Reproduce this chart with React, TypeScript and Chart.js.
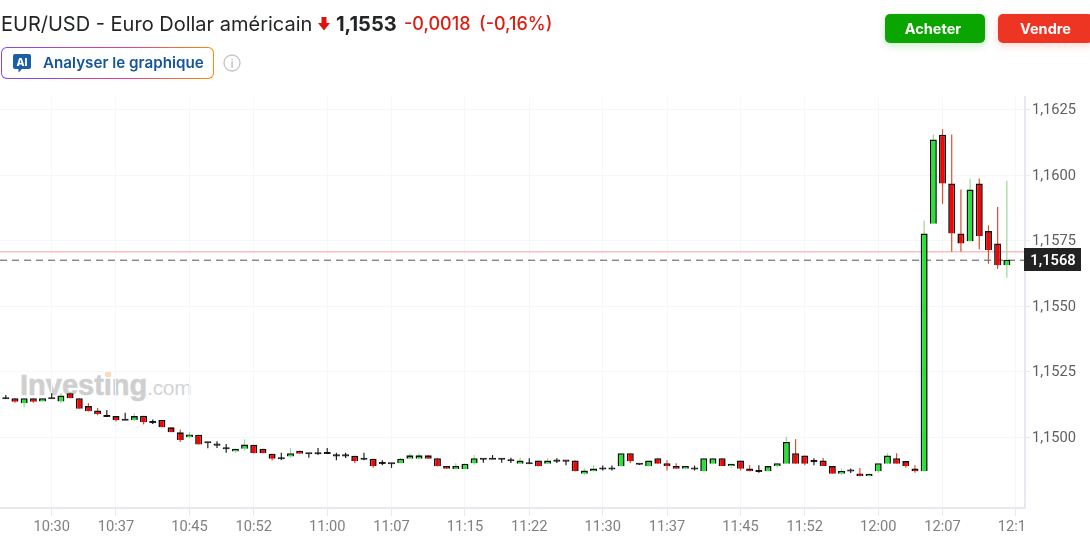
import React, { useEffect, useRef } from "react";
import { Chart, registerables } from "chart.js";

Chart.register(...registerables);

// One candle per minute, first candle 10:25
const firstMinute = 625;
const opens = [
  1.15148, 1.15148, 1.15129, 1.15148, 1.15136, 1.15148, 1.15136, 1.15167, 1.15148, 1.15118,
  1.15101, 1.1508, 1.1508, 1.15066, 1.15065, 1.15081, 1.15057, 1.15065, 1.15037, 1.15018,
  1.14999, 1.15009, 1.1498, 1.14971, 1.14957, 1.14945, 1.14955, 1.1497, 1.14955, 1.14936,
  1.14919, 1.14926, 1.14948, 1.14938, 1.14938, 1.14939, 1.1493, 1.1493, 1.14928, 1.14917,
  1.14917, 1.14901, 1.149, 1.149, 1.14917, 1.14917, 1.1493, 1.14919, 1.14889, 1.14878,
  1.14878, 1.149, 1.14917, 1.14917, 1.14917, 1.14911, 1.14898, 1.149, 1.1491, 1.14898,
  1.1491, 1.1491, 1.1491, 1.1486, 1.14869, 1.1488, 1.1488, 1.14888, 1.14938, 1.14898,
  1.14888, 1.14919, 1.149, 1.14889, 1.14879, 1.1488, 1.14869, 1.14898, 1.14919, 1.14889,
  1.1491, 1.1488, 1.1487, 1.14869, 1.14889, 1.14898, 1.14938, 1.14929, 1.14908, 1.1491,
  1.14889, 1.1486, 1.14872, 1.14861, 1.1485, 1.14869, 1.14898, 1.14919, 1.14908, 1.1488,
  1.14869, 1.15814, 1.16154, 1.15968, 1.15777, 1.15747, 1.15968, 1.15786, 1.15739, 1.15656,
];
const closes = [
  1.15148, 1.15135, 1.15148, 1.15135, 1.15148, 1.15148, 1.15158, 1.15148, 1.15108, 1.15098,
  1.15088, 1.1508, 1.15064, 1.15066, 1.1508, 1.15056, 1.15057, 1.15037, 1.15018, 1.14989,
  1.1501, 1.14971, 1.1498, 1.14971, 1.14957, 1.14955, 1.14971, 1.14938, 1.14938, 1.14917,
  1.14919, 1.14938, 1.14936, 1.14938, 1.14938, 1.14939, 1.1493, 1.1493, 1.14908, 1.14917,
  1.14889, 1.14901, 1.149, 1.14917, 1.1493, 1.1493, 1.14917, 1.14888, 1.14879, 1.14889,
  1.14898, 1.14919, 1.14917, 1.14917, 1.14917, 1.14911, 1.1491, 1.149, 1.14888, 1.1491,
  1.1491, 1.1491, 1.14869, 1.14872, 1.1488, 1.1488, 1.1488, 1.14938, 1.14907, 1.14898,
  1.1491, 1.14898, 1.14889, 1.14879, 1.14889, 1.1488, 1.14919, 1.14919, 1.14889, 1.14898,
  1.14879, 1.14869, 1.1487, 1.14889, 1.149, 1.14981, 1.14898, 1.14898, 1.14908, 1.14889,
  1.1486, 1.1487, 1.14872, 1.1485, 1.1486, 1.149, 1.14929, 1.14898, 1.14889, 1.14869,
  1.15777, 1.16136, 1.15968, 1.15777, 1.15739, 1.15945, 1.15766, 1.15714, 1.15656, 1.15677,
];
const highs = [
  1.1516, 1.15148, 1.15148, 1.15148, 1.15148, 1.15167, 1.15167, 1.15169, 1.15148, 1.15129,
  1.15111, 1.15103, 1.1508, 1.15093, 1.1509, 1.15081, 1.15067, 1.15065, 1.15037, 1.15029,
  1.15019, 1.15009, 1.1498, 1.14984, 1.14973, 1.14955, 1.14991, 1.1497, 1.14955, 1.14936,
  1.1494, 1.14958, 1.14948, 1.14938, 1.14958, 1.14958, 1.1494, 1.1494, 1.14928, 1.1494,
  1.14917, 1.14911, 1.149, 1.14921, 1.14938, 1.14938, 1.1493, 1.14919, 1.14889, 1.149,
  1.14898, 1.14931, 1.14917, 1.14931, 1.14917, 1.14921, 1.14921, 1.14919, 1.1491, 1.14919,
  1.14919, 1.1491, 1.1491, 1.1488, 1.14892, 1.14891, 1.14891, 1.14938, 1.14938, 1.14898,
  1.1491, 1.14919, 1.14911, 1.149, 1.14889, 1.14891, 1.14919, 1.14919, 1.14919, 1.14898,
  1.1491, 1.14892, 1.14892, 1.14889, 1.149, 1.15001, 1.14992, 1.14929, 1.14919, 1.1492,
  1.14889, 1.1488, 1.1488, 1.14882, 1.1486, 1.149, 1.14938, 1.14938, 1.14908, 1.14892,
  1.15827, 1.16155, 1.16175, 1.16155, 1.15945, 1.15987, 1.15987, 1.15808, 1.15878, 1.15978,
];
const lows = [
  1.15145, 1.15131, 1.15113, 1.15131, 1.15136, 1.15147, 1.15131, 1.15148, 1.15108, 1.15098,
  1.15083, 1.1508, 1.15059, 1.15066, 1.15062, 1.15048, 1.1505, 1.15037, 1.15018, 1.14981,
  1.14995, 1.14971, 1.14957, 1.14958, 1.1494, 1.1494, 1.1495, 1.14938, 1.14938, 1.1491,
  1.14912, 1.14921, 1.14936, 1.14921, 1.14931, 1.14936, 1.14911, 1.1492, 1.14901, 1.14911,
  1.14883, 1.14892, 1.14882, 1.149, 1.14917, 1.14917, 1.14917, 1.14888, 1.14879, 1.14878,
  1.14878, 1.14894, 1.14902, 1.14916, 1.14902, 1.14901, 1.14898, 1.14898, 1.14888, 1.14898,
  1.14901, 1.14892, 1.14869, 1.14856, 1.14869, 1.14872, 1.14872, 1.14888, 1.14901, 1.14893,
  1.14888, 1.14898, 1.14872, 1.14879, 1.14877, 1.14872, 1.14869, 1.14898, 1.14889, 1.14883,
  1.14873, 1.14869, 1.14864, 1.14869, 1.14883, 1.14898, 1.14898, 1.14892, 1.14892, 1.14889,
  1.1486, 1.14855, 1.14863, 1.1485, 1.1485, 1.14864, 1.14898, 1.14898, 1.14883, 1.14864,
  1.14869, 1.15814, 1.1589, 1.15707, 1.15707, 1.15747, 1.15717, 1.15661, 1.15641, 1.15608,
];

const xTickLabels = [
  "10:30", "10:37", "10:45", "10:52", "11:00", "11:07", "11:15", "11:22",
  "11:30", "11:37", "11:45", "11:52", "12:00", "12:07", "12:15",
];
const yTickValues = [1.15, 1.1525, 1.155, 1.1575, 1.16, 1.1625];
const lastPrice = 1.15675;
const lastPriceLabel = "1,1568";
const previousClose = 1.15707;
const xRange = [624.37, 735.98];
const yRange = [1.14729, 1.16298];

const toMinutes = (s: string) => {
  const [h, m] = s.split(":").map(Number);
  return h * 60 + m;
};
const minuteLabel = (v: number) =>
  xTickLabels.find((l) => toMinutes(l) === v) ?? "";

const axisColor = "#e7e9f0";
const gridColor = "#f6f7fa";
const DOJI_HALF = 0.00004;

const edgePlugin = {
  id: "edge",
  afterDraw(chart: any) {
    const { ctx } = chart;
    const y = chart.scales.y.getPixelForValue(lastPrice);
    ctx.save();
    ctx.fillStyle = "#fff";
    ctx.fillRect(1026, 518, 64, 26);
    ctx.fillStyle = "#222";
    ctx.fillRect(1024, Math.round(y) - 12, 57, 23);
    ctx.fillStyle = "#fff";
    ctx.font = "600 14.67px Roboto";
    ctx.textAlign = "center";
    ctx.textBaseline = "middle";
    ctx.fillText(lastPriceLabel, 1053, Math.round(y) + 1);
    ctx.restore();
  },
};

export default function App() {
  const ref = useRef<HTMLCanvasElement>(null);
  useEffect(() => {
    const isDoji = opens.map((o, i) => o === closes[i]);
    const up = opens.map((o, i) => closes[i] > o);
    const xs = opens.map((_, i) => firstMinute + i);
    const chart = new Chart(ref.current!, {
      type: "bar",
      plugins: [edgePlugin],
      data: {
        datasets: [
          {
            type: "line",
            order: 4,
            data: xRange.map((x) => ({ x, y: previousClose })),
            borderColor: "rgba(245,150,150,0.6)",
            borderWidth: 1.5,
            pointRadius: 0,
          },
          {
            type: "line",
            order: 3,
            data: xRange.map((x) => ({ x, y: lastPrice })),
            borderColor: "#555",
            borderWidth: 1,
            borderDash: [7, 5],
            pointRadius: 0,
          },
          {
            type: "bar",
            order: 2,
            grouped: false,
            barThickness: 1.2,
            inflateAmount: 0,
            data: xs.map((x, i) => ({ x, y: [lows[i], highs[i]] })),
            backgroundColor: xs.map((_, i) =>
              isDoji[i] ? "#222" : up[i] ? "#9ed69a" : "#d8502f"
            ),
            borderWidth: 0,
          },
          {
            type: "bar",
            order: 1,
            grouped: false,
            barThickness: 7,
            inflateAmount: 0,
            data: xs.map((x, i) => ({
              x,
              y: isDoji[i]
                ? [opens[i] - DOJI_HALF, opens[i] + DOJI_HALF]
                : [opens[i], closes[i]],
            })),
            backgroundColor: xs.map((_, i) =>
              isDoji[i] ? "#111" : up[i] ? "#22e632" : "#ff0000"
            ),
            borderColor: "#111",
            borderWidth: 1.6,
          },
        ],
      } as any,
      options: {
        responsive: false,
        animation: false,
        events: [],
        layout: { padding: { top: 97, left: 0, right: 0, bottom: 0 } },
        plugins: { legend: { display: false }, tooltip: { enabled: false } },
        scales: {
          x: {
            type: "linear",
            min: xRange[0],
            max: xRange[1],
            offset: false,
            afterBuildTicks(scale: any) {
              scale.ticks = xTickLabels.map((l) => ({ value: toMinutes(l) }));
            },
            afterFit(scale: any) {
              scale.height = 36;
            },
            grid: {
              offset: false,
              color: gridColor,
              tickColor: axisColor,
              tickLength: 8,
              lineWidth: 1,
            },
            border: { color: axisColor, width: 2 },
            ticks: {
              autoSkip: false,
              maxRotation: 0,
              padding: 3,
              color: "#808080",
              font: { family: "Roboto", size: 14.67 },
              callback: (v: any) => minuteLabel(Number(v)),
            },
          },
          y: {
            type: "linear",
            position: "right",
            min: yRange[0],
            max: yRange[1],
            afterBuildTicks(scale: any) {
              scale.ticks = yTickValues.map((value) => ({ value }));
            },
            afterFit(scale: any) {
              scale.width = 65;
            },
            grid: {
              color: gridColor,
              tickColor: axisColor,
              tickLength: 5,
              lineWidth: 1,
            },
            border: { color: axisColor, width: 2 },
            ticks: {
              padding: 2,
              labelOffset: 1,
              color: "#5f5f5f",
              font: { family: "Roboto", size: 14.67 },
              callback: (v: any) => Number(v).toFixed(4).replace(".", ","),
            },
          },
        },
      } as any,
    });
    return () => chart.destroy();
  }, []);

  const abs = (s: React.CSSProperties): React.CSSProperties => ({
    position: "absolute",
    whiteSpace: "nowrap",
    ...s,
  });
  const inter = "Inter, sans-serif";

  return (
    <div
      style={abs({
        left: 0,
        top: 0,
        width: 1090,
        height: 544,
        overflow: "hidden",
        background: "#fff",
        fontFamily: inter,
      })}
    >
      {/* watermark */}
      <div style={abs({ left: 20, top: 369, fontFamily: "'Liberation Sans', sans-serif", fontSize: 29, lineHeight: "32px", color: "#cfcfcf" })}>
        <span style={{ fontWeight: 700, WebkitTextStroke: "0.6px #cfcfcf" }}>Investing</span>
        <span style={{ fontWeight: 400, fontSize: 21, letterSpacing: -0.4, color: "#d4d4d4" }}>.com</span>
      </div>
      <div style={abs({ left: 106, top: 372, width: 5, height: 5, background: "#f9dcb8" })} />

      <canvas
        ref={ref}
        width={1090}
        height={544}
        style={abs({ left: 0, top: 0, width: 1090, height: 544, display: "block" })}
      />

      {/* header */}
      <div style={abs({ left: 1, top: 12, fontSize: 20, lineHeight: "24px", color: "#232526" })}>
        EUR/USD - Euro Dollar américain
      </div>
      <svg style={abs({ left: 318, top: 17 })} width="12" height="14" viewBox="0 0 12 14">
        <path d="M3.5 0h5v6H12L6 13.5 0 6h3.5z" fill="#e0120c" />
      </svg>
      <div style={abs({ left: 336, top: 12, fontSize: 20, fontWeight: 700, lineHeight: "24px", color: "#232526" })}>1,1553</div>
      <div style={abs({ left: 404, top: 12, fontSize: 18, fontWeight: 500, lineHeight: "24px", color: "#df1c10" })}>-0,0018</div>
      <div style={abs({ left: 479, top: 12, fontSize: 18, fontWeight: 500, lineHeight: "24px", color: "#df1c10" })}>(-0,16%)</div>

      {/* analyse button */}
      <div
        style={abs({
          left: 1,
          top: 47,
          width: 213,
          height: 32,
          boxSizing: "border-box",
          borderRadius: 6,
          border: "1px solid transparent",
          background:
            "linear-gradient(#fff,#fff) padding-box, linear-gradient(90deg,#7a4df0,#e8408a 60%,#ff8a00) border-box",
        })}
      />
      <svg style={abs({ left: 13, top: 54 })} width="18" height="19" viewBox="0 0 18 19">
        <path d="M2 0h14a2 2 0 0 1 2 2v11a2 2 0 0 1-2 2H9l-3.5 3.5V15H2a2 2 0 0 1-2-2V2a2 2 0 0 1 2-2z" fill="#1a5ea8" />
        <text x="9" y="11.5" textAnchor="middle" fontSize="10.5" fontWeight="800" fill="#fff" fontFamily={inter}>AI</text>
      </svg>
      <div style={abs({ left: 43, top: 52, fontSize: 15.2, fontWeight: 600, lineHeight: "21px", color: "#14559c" })}>
        Analyser le graphique
      </div>
      <svg style={abs({ left: 223, top: 54 })} width="18" height="18" viewBox="0 0 18 18">
        <circle cx="9" cy="9" r="8" fill="none" stroke="#c4c4c4" strokeWidth="1.3" />
        <text x="9" y="13.5" textAnchor="middle" fontSize="11" fill="#aaa" fontFamily={inter}>i</text>
      </svg>

      {/* buttons */}
      <div style={abs({ left: 885, top: 14, width: 96, paddingRight: 4, height: 29, borderRadius: 5, background: "#0ba500", boxShadow: "0 3px 8px rgba(11,165,0,0.2)", color: "#fff", fontSize: 14.5, fontWeight: 700, lineHeight: "29px", textAlign: "center" })}>
        Acheter
      </div>
      <div style={abs({ left: 998, top: 14, width: 95, height: 29, borderRadius: 5, background: "#ee3524", boxShadow: "0 3px 8px rgba(238,53,36,0.2)", color: "#fff", fontSize: 14.5, fontWeight: 700, lineHeight: "29px", textAlign: "center" })}>
        Vendre
      </div>
    </div>
  );
}
